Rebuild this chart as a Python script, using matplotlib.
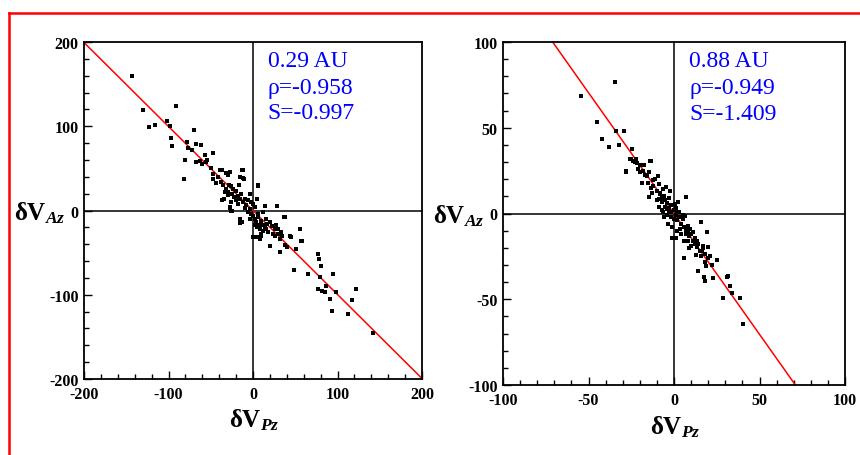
import matplotlib
matplotlib.use("Agg")
import matplotlib.pyplot as plt
from matplotlib.lines import Line2D
from matplotlib.ticker import MultipleLocator

plt.rcParams['axes.unicode_minus'] = False
plt.rcParams['mathtext.fontset'] = 'custom'
plt.rcParams['mathtext.it'] = 'Liberation Serif:italic:bold'
plt.rcParams['mathtext.rm'] = 'Liberation Serif:bold'

# ---------------- data ----------------
left_title = "0.29 AU"
left_rho = "ρ=-0.958"
left_S_text = "S=-0.997"
left_slope = -0.997
left_x = [-142.8, -130, -123.5, -116.4, -101.4, -98.6, -90.7, -97.4, -95.9, -81.7,
          -80, -77.7, -76.5, -71.8, -69.4, -67.9, -61.9, -67, -63, -57.2,
          -56, -47.3, -47.3, -47.3, -44.2, -38.7, -34.7, -32.3, -29.6, -27.6,
          -32.3, -29.2, -25.6, -23.7, -27.6, -25.6, -19.7, -17.8, -16.6, -12.6,
          -11.8, -15, -15.8, -11.8, -9.9, -5.9, -3.9, -3.9, -2, 0,
          2, 0, 3.9, 5.9, 4.7, 5.9, 2, 7.9, 8.7, 11.8,
          11.8, 13.8, 15.8, 15.8, 19.7, 20.5, 25.6, 27.6, 28.8, 29.6,
          31.6, 33.5, 36.3, 37.5, 40.2, 43.4, 45.4, 48.5, 51.3, 55.2,
          56.4, 65.1, 76.9, 78.1, 80.9, 78.9, 76.9, 82, 84.8, 86.8,
          94.7, 90.7, 93.9, 98.6, 112.4, 117.6, 122.3, 142,
          -37, -31, -27.2, -30, -11.5, -10.3, -15.4, -36.3, -27, -25,
          5.5, 28, 37.9, 55.6, 57.6, -15.4, -13.4, 1.5, 6.3, 20,
          -35, -33, -30, -28, -25, -22, -20, -18, -14, -10,
          -8, -6, -4, -2, 0, 2, 4, 6, 8, 10,
          12, 14, 16, 18, 22, 24, 26, 30, 32, 34,
          -42, -38, -50, -54, -60, -26, 5, 10, 6, 9]
left_y = [159.2, 119.6, 99, 101.8, 106.5, 100, 124.4, 86, 76.8, 36.8,
          60.2, 80.8, 73.7, 71.3, 95.4, 78.4, 77.2, 57.4, 58.2, 65.3,
          57.4, 68.5, 43.6, 37.6, 32.5, 47.5, 13.1, 44.8, 43.6, 45.5,
          25.7, 21.8, 28.5, 25.7, 4, -0.8, 22.6, 17.8, 29.7, 47.5,
          38.8, 13.9, -14.7, 9.9, 2.8, -2, 19, -9.9, 9.9, 7.9,
          4, -31.7, -31.7, 29.7, 13.9, -4, -17.8, -17.8, -33.7, -2,
          -17.8, 5.9, -21.8, -9.9, -41.6, -13.1, -21.8, -17.8, 5.1, -27.7,
          -49.5, -25.7, -7.9, -40.8, -43.6, -29.7, -31.7, -70.1, -45.5, -21.8,
          -36.4, -75.2, -51.5, -57.4, -65.3, -79.2, -93.1, -95, -97, -89.1,
          -75.2, -105, -118.8, -97, -122.8, -105.7, -93.1, -145.7,
          48, 44.7, 45.5, 42, 48, 37.4, 40, 12.5, 3.2, -0.8,
          29, 5.1, -7.5, -22, -35.8, -10, -14, -32, -32, -42,
          30, 22, 18, 30, 20, 16, 12, 8, 20, 14,
          6, 12, 2, -4, -6, -10, -14, -8, -22, -12,
          -24, -20, -16, -26, -18, -28, -30, -22, -34, -30,
          40, 34, 50, 60, 55, 10, -20, -28, -18, -30]

right_title = "0.88 AU"
right_rho = "ρ=-0.949"
right_S_text = "S=-1.409"
right_slope = -1.409
right_x = [-34.6, -54.5, -44.8, -33.7, -29.2, -42, -38.1, -32.1, -24.3, -28.2,
           -25.3, -23.5, -21.9, -21, -20, -17.7, -14.1, -17.1, -18.6, -14.5,
           -12.2, -9.3, -14.7, -13.7, -10.2, -8.3, -6.3, -4.4, -2.4, -8.7,
           -7.3, -5.4, -4, -6.3, -2.8, -1.5, 0.5, 2.4, 7.3, 1.5,
           5.4, 6.3, -3.4, -0.9, 1, 3.4, 5.8, 7.3, 9.3, 11.2,
           8.3, 10.2, 13.2, 13.2, 15.5, 16.1, 17.1, 18, 20, 19.4,
           21, 19, 17.5, 18, 13.8, 22.9, 24.9, 28.8, 31.1, 31.7,
           32.7, 33.7, 38.5, 40.5,
           -25.7, -23.8, -22.8, -28.3, -13.6,
           -12, -11, -9, -8, -7, -6, -5, -5, -4, -3,
           -3, -2, -2, -1, 0, 0, 1, 1, 2, 3,
           3, 4, 5, 6, 7, 8, 8, 9, 10, 11,
           12, 14, 15, 16, 17, 18, -16, -18, -20, -22,
           -15, -13, -10, -9, -7, -6, -4, -1, 2, 4,
           6, 9, 12, 13, 20, 22]
right_y = [76.7, 68.3, 53.3, 47.9, 48, 43.4, 38.5, 39.7, 37.7, 24.5,
           31.9, 30.9, 29.6, 26.1, 24.1, 28, 30.5, 22.2, 17.7, 24.1,
           19.3, 21.8, 9.5, 14.8, 13.4, 11.5, 14.4, 15.4, 13.4, 8.6,
           6.6, 3.7, 2.7, 0.8, 0.8, 4.7, 5.6, 6.6, 9.5, 0.8,
           -0.8, -1.2, -6, -14.4, -14.4, -8.9, -26.1, -9.9, -8.9, -10.9,
           -15.8, -18.7, -15.8, -19.6, -5.1, -21.6, -18.7, -23.5, -19.6, -10.5,
           -24.5, -30.4, -37.2, -39.1, -33.3, -37.7, -27.4, -49.4, -37.2, -36.2,
           -42, -46.3, -49.4, -64.4,
           31.8, 30.8, 29.9, 24.4, 30.8,
           16, 20, 17, 12, 9, 10, 8, 4, 6, 3,
           9, 1, -2, 5, 2, -3, -1, 3, -4, -2,
           1, -6, -3, -8, -12, -11, -7, -13, -12, -16,
           -14, -18, -22, -25, -20, -28, 22, 25, 28, 32,
           18, 12, 8, 4, 2, -2, -1, -8, -10, -12,
           -16, -20, -18, -24, -26, -30]

left_lim = 200
left_major = 100
left_minor = 20
right_lim = 100
right_major = 50
right_minor = 10

serif = 'Liberation Serif'

fig = plt.figure(figsize=(8.6, 4.56), dpi=100)

# red frame
fig.add_artist(Line2D([9/860, 9/860], [0, 1 - 14/456], transform=fig.transFigure,
                      color='#ff0000', lw=1.8))
fig.add_artist(Line2D([9/860, 1], [1 - 14/456, 1 - 14/456], transform=fig.transFigure,
                      color='#ff0000', lw=1.8))

panels = [
    dict(rect=[84/860, 76/456, 338/860, 337/456], x=left_x, y=left_y, lim=left_lim,
         major=left_major, minor=left_minor, slope=left_slope,
         texts=[left_title, left_rho, left_S_text]),
    dict(rect=[503/860, 70/456, 342/860, 343/456], x=right_x, y=right_y, lim=right_lim,
         major=right_major, minor=right_minor, slope=right_slope,
         texts=[right_title, right_rho, right_S_text]),
]

for p in panels:
    ax = fig.add_axes(p['rect'])
    L = p['lim']
    ax.set_xlim(-L, L)
    ax.set_ylim(-L, L)
    ax.axhline(0, color='black', lw=1.1, zorder=1)
    ax.axvline(0, color='black', lw=1.1, zorder=1)
    xs = [max(-L, L / p['slope']), min(L, -L / p['slope'])]
    ax.plot(xs, [p['slope'] * v for v in xs], color='#ff0000', lw=1.1, zorder=2)
    ax.scatter(p['x'], p['y'], s=7, marker='s', color='black', linewidths=0, zorder=3)
    for s in ax.spines.values():
        s.set_linewidth(1.3)
    ax.xaxis.set_major_locator(MultipleLocator(p['major']))
    ax.yaxis.set_major_locator(MultipleLocator(p['major']))
    ax.xaxis.set_minor_locator(MultipleLocator(p['minor']))
    ax.yaxis.set_minor_locator(MultipleLocator(p['minor']))
    ax.tick_params(which='both', direction='in', top=False, right=False, width=1.0)
    ax.tick_params(which='major', length=5.5)
    ax.tick_params(which='minor', length=3.5)
    ax.tick_params(axis='x', pad=5)
    ax.tick_params(axis='y', pad=4)
    for lab in ax.get_xticklabels() + ax.get_yticklabels():
        lab.set_fontfamily(serif)
        lab.set_fontweight('bold')
        lab.set_fontsize(11.5)
    for t, yy in zip(p['texts'], [0.945, 0.866, 0.792]):
        ax.text(0.544, yy, t, transform=ax.transAxes, ha='left', va='center',
                color='#0000ff', fontsize=17, family=serif)
    ax.text(-0.054, 0.475, 'δV$_{Az}$', transform=ax.transAxes, ha='right',
            va='baseline', fontsize=18, family=serif, fontweight='bold')
    ax.text(0.503, -0.142, 'δV$_{Pz}$', transform=ax.transAxes, ha='center',
            va='baseline', fontsize=18, family=serif, fontweight='bold')

fig.savefig('out.png', dpi=100)
